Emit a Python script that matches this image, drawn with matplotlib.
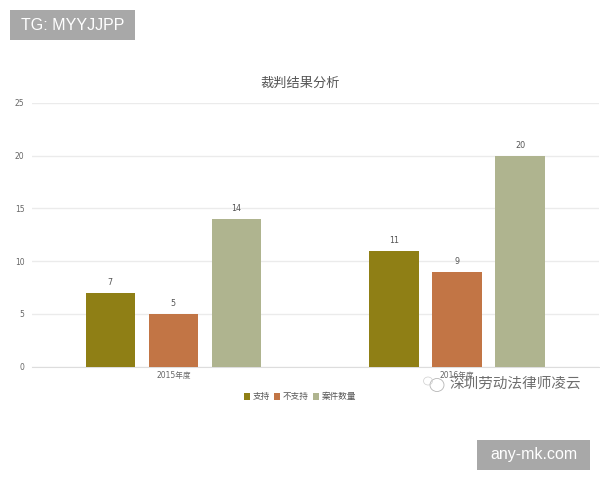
import matplotlib
matplotlib.use("Agg")
import matplotlib.pyplot as plt
from matplotlib.patches import Rectangle, Ellipse
import numpy as np

plt.rcParams['font.family'] = ['Noto Sans CJK SC', 'DejaVu Sans']

title = "裁判结果分析"
categories = ["2015年度", "2016年度"]
series_names = ["支持", "不支持", "案件数量"]
support = [7, 11]
no_support = [5, 9]
cases = [14, 20]
colors = ["#8F7F15", "#C27545", "#AFB48F"]
yticks = [0, 5, 10, 15, 20, 25]

W, H = 600, 480
fig = plt.figure(figsize=(W / 100, H / 100), dpi=100, facecolor="white")
L, R, T, B = 31.5, 599, 103, 366.5
ax = fig.add_axes([L / W, 1 - B / H, (R - L) / W, (B - T) / H])

x = np.arange(len(categories))
bw, step = 0.174, 0.222
handles = []
for i, (vals, name, c) in enumerate(zip([support, no_support, cases], series_names, colors)):
    bars = ax.bar(x + (i - 1) * step, vals, bw, color=c, label=name, zorder=3)
    handles.append(bars)
    for xx, v in zip(x + (i - 1) * step, vals):
        ax.annotate(str(v), (xx, v), xytext=(0, 4), textcoords="offset points",
                    ha="center", va="bottom", fontsize=5.8, color="#555555",
                    family="DejaVu Sans")

ax.set_xlim(-0.5, 1.5)
ax.set_ylim(0, 25)
ax.set_yticks(yticks)
ax.set_xticks(x, categories)
ax.tick_params(axis="both", length=0, labelsize=5.5, labelcolor="#666666")
ax.tick_params(axis="y", pad=5)
ax.tick_params(axis="x", pad=3.5)
for lab in ax.get_yticklabels():
    lab.set_family("DejaVu Sans")
for lab in ax.get_xticklabels():
    lab.set_family(["DejaVu Sans", "Noto Sans CJK SC"])
ax.grid(axis="y", color="#EBEBEB", lw=1, zorder=0)
for s in ["top", "right", "left"]:
    ax.spines[s].set_visible(False)
ax.spines["bottom"].set_color("#DDDDDD")

fig.text(300 / W, 1 - 83 / H, title, ha="center", va="center", fontsize=9.5, color="#555555")

ax.legend(handles=handles, loc="center", bbox_to_anchor=(300 / W, 1 - 397 / H),
          bbox_transform=fig.transFigure, ncol=3, frameon=False, fontsize=6.2,
          labelcolor="#555555", handlelength=0.7, handleheight=0.7, handletextpad=0.3,
          columnspacing=0.5, borderpad=0)

# Watermarks
fig.add_artist(Rectangle((10 / W, 1 - 40 / H), 125 / W, 30 / H, transform=fig.transFigure,
                         color="#A8A8A8", lw=0))
fig.text(72.5 / W, 1 - 25.5 / H, "TG: MYYJJPP", ha="center", va="center", fontsize=11.5,
         color="white", family="Liberation Sans")
fig.add_artist(Rectangle((477 / W, 1 - 470 / H), 113 / W, 30 / H, transform=fig.transFigure,
                         color="#A8A8A8", lw=0))
fig.text(533.5 / W, 1 - 455 / H, "any-mk.com", ha="center", va="center", fontsize=11.5,
         color="white", family="Liberation Sans")
fig.text(515 / W, 1 - 384 / H, "深圳劳动法律师凌云", ha="center", va="center", fontsize=10.5,
         color="#6E6E6E")
fig.add_artist(Ellipse((437 / W, 1 - 385 / H), 14 / W, 13 / H, transform=fig.transFigure,
                       fc="none", ec="#B5B5B5", lw=0.6))
fig.add_artist(Ellipse((428 / W, 1 - 381 / H), 9 / W, 8 / H, transform=fig.transFigure,
                       fc="none", ec="#CFCFCF", lw=0.5))

fig.savefig("out.png", dpi=100)
